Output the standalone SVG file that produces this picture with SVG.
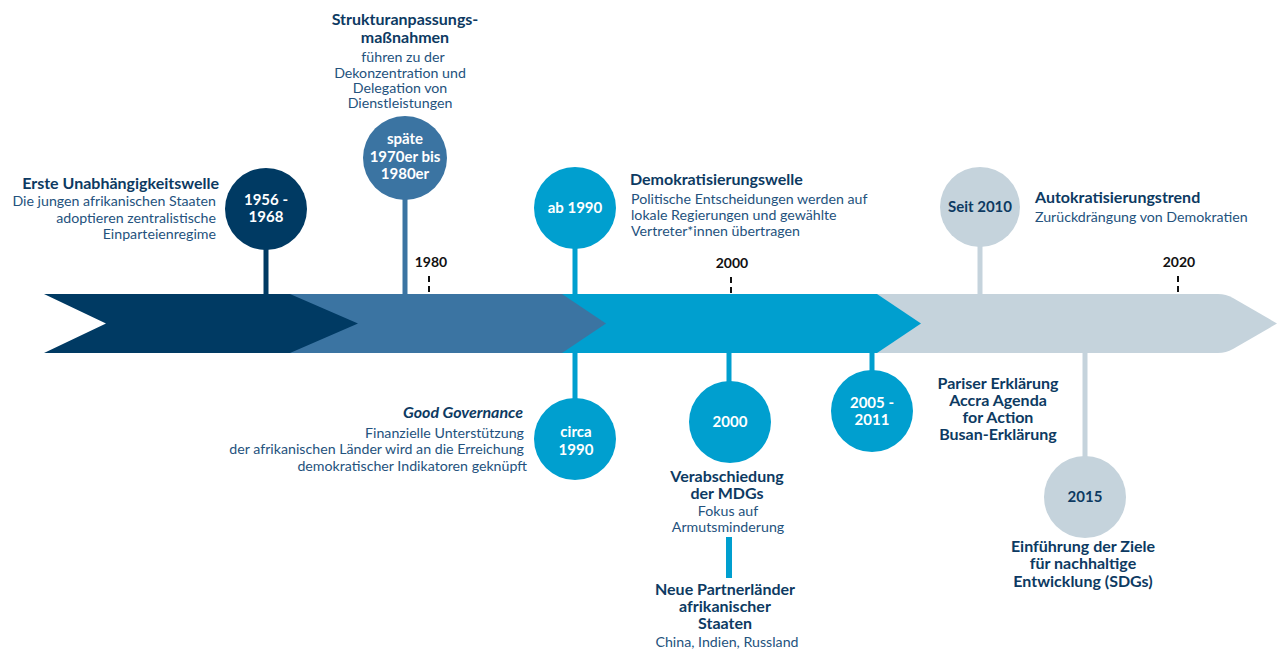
<svg xmlns="http://www.w3.org/2000/svg" width="1277" height="650" viewBox="0 0 1277 650">
  <style>
    text { font-family: "Lato", "Open Sans", sans-serif; }
    .h { font-weight: 700; font-size: 16px; fill: #0d3a62; }
    .b { font-size: 14.2px; fill: #24527d; }
    .c { font-weight: 700; font-size: 15px; fill: #ffffff; text-anchor: middle; }
    .cd { font-weight: 700; font-size: 15px; fill: #0d3a62; text-anchor: middle; }
    .y { font-weight: 700; font-size: 14px; fill: #111111; text-anchor: middle; }
    .mid { text-anchor: middle; }
    .end { text-anchor: end; }
    .tick { stroke: #111111; stroke-width: 2; stroke-dasharray: 6 4; }
    .navy { fill: #003a63; }
    .steel { fill: #3b74a2; }
    .cyan { fill: #009fcf; }
    .grey { fill: #c5d3dc; }
  </style>

  <!-- timeline band, drawn right to left so each arrow tip overlaps the next -->
  <g id="band">
    <path class="grey" d="M876,294 L1218,294 Q1226,294 1233,298 L1277,323.5 L1233,349 Q1226,353 1218,353 L876,353 Z"/>
    <path class="cyan" d="M561,294 L877,294 L921,323.5 L877,353 L561,353 Z"/>
    <path class="steel" d="M289,294 L562,294 L606,323.5 L562,353 L289,353 Z"/>
    <path class="navy" d="M44,294 L290,294 L358,323.5 L290,353 L44,353 L106,323.5 Z"/>
  </g>

  <!-- year ticks -->
  <g id="ticks">
    <line class="tick" x1="429" y1="276" x2="429" y2="294"/>
    <text class="y" x="431" y="267">1980</text>
    <line class="tick" x1="731" y1="277" x2="731" y2="294"/>
    <text class="y" x="732" y="268">2000</text>
    <line class="tick" x1="1178" y1="276" x2="1178" y2="294"/>
    <text class="y" x="1179" y="267">2020</text>
  </g>

  <!-- connectors between circles and band -->
  <g id="connectors" stroke-width="5">
    <line x1="266" y1="240" x2="266" y2="296" stroke="#003a63"/>
    <line x1="405" y1="190" x2="405" y2="296" stroke="#3b74a2"/>
    <line x1="575" y1="240" x2="575" y2="296" stroke="#009fcf"/>
    <line x1="575" y1="351" x2="575" y2="405" stroke="#009fcf"/>
    <line x1="729" y1="351" x2="729" y2="390" stroke="#009fcf"/>
    <line x1="872" y1="351" x2="872" y2="378" stroke="#009fcf"/>
    <line x1="980" y1="240" x2="980" y2="296" stroke="#c5d3dc"/>
    <line x1="1085" y1="351" x2="1085" y2="462" stroke="#c5d3dc"/>
    <line x1="729" y1="537" x2="729" y2="578" stroke="#009fcf" stroke-width="6"/>
  </g>

  <g id="n1956">
    <circle class="navy" cx="266" cy="209" r="41"/>
    <text class="c" x="266" y="205">1956 -</text>
    <text class="c" x="266" y="222">1968</text>
    <text class="h end" x="219" y="189">Erste Unabhängigkeitswelle</text>
    <text class="b end" x="216" y="206">Die jungen afrikanischen Staaten</text>
    <text class="b end" x="216" y="223">adoptieren zentralistische</text>
    <text class="b end" x="216" y="239">Einparteienregime</text>
  </g>

  <g id="n1970">
    <circle class="steel" cx="405" cy="158" r="42"/>
    <text class="c" x="405" y="144">späte</text>
    <text class="c" x="405" y="162">1970er bis</text>
    <text class="c" x="405" y="179">1980er</text>
    <text class="h mid" x="405" y="25">Strukturanpassungs-</text>
    <text class="h mid" x="405" y="43">maßnahmen</text>
    <text class="b mid" x="403" y="62">führen zu der</text>
    <text class="b mid" x="400" y="78">Dekonzentration und</text>
    <text class="b mid" x="400" y="93">Delegation von</text>
    <text class="b mid" x="400" y="108">Dienstleistungen</text>
  </g>

  <g id="n1990">
    <circle class="cyan" cx="575" cy="208" r="41"/>
    <text class="c" x="575" y="213">ab 1990</text>
    <text class="h" x="630" y="185">Demokratisierungswelle</text>
    <text class="b" x="631" y="204">Politische Entscheidungen werden auf</text>
    <text class="b" x="631" y="220">lokale Regierungen und gewählte</text>
    <text class="b" x="631" y="236">Vertreter*innen übertragen</text>
  </g>

  <g id="ncirca1990">
    <circle class="cyan" cx="575" cy="439" r="41"/>
    <text class="c" x="576" y="437">circa</text>
    <text class="c" x="576" y="455">1990</text>
    <text class="h end" x="523" y="418" font-style="italic">Good Governance</text>
    <text class="b end" x="524" y="438">Finanzielle Unterstützung</text>
    <text class="b end" x="524" y="454">der afrikanischen Länder wird an die Erreichung</text>
    <text class="b end" x="527" y="471">demokratischer Indikatoren geknüpft</text>
  </g>

  <g id="n2000">
    <circle class="cyan" cx="730" cy="422" r="41"/>
    <text class="c" x="730" y="427">2000</text>
    <text class="h mid" x="727" y="482">Verabschiedung</text>
    <text class="h mid" x="727" y="499">der MDGs</text>
    <text class="b mid" x="728" y="516">Fokus auf</text>
    <text class="b mid" x="728" y="532">Armutsminderung</text>
    <text class="h mid" x="725" y="595">Neue Partnerländer</text>
    <text class="h mid" x="725" y="612">afrikanischer</text>
    <text class="h mid" x="725" y="629">Staaten</text>
    <text class="b mid" x="727" y="647">China, Indien, Russland</text>
  </g>

  <g id="n2005">
    <circle class="cyan" cx="872" cy="411" r="41"/>
    <text class="c" x="872" y="408">2005 -</text>
    <text class="c" x="872" y="425">2011</text>
    <text class="h mid" x="998" y="389">Pariser Erklärung</text>
    <text class="h mid" x="998" y="406">Accra Agenda</text>
    <text class="h mid" x="998" y="423">for Action</text>
    <text class="h mid" x="998" y="440">Busan-Erklärung</text>
  </g>

  <g id="n2010">
    <circle class="grey" cx="980" cy="207" r="40"/>
    <text class="cd" x="980" y="212">Seit 2010</text>
    <text class="h" x="1035" y="203">Autokratisierungstrend</text>
    <text class="b" x="1035" y="222">Zurückdrängung von Demokratien</text>
  </g>

  <g id="n2015">
    <circle class="grey" cx="1085" cy="497" r="41"/>
    <text class="cd" x="1085" y="502">2015</text>
    <text class="h mid" x="1083" y="552">Einführung der Ziele</text>
    <text class="h mid" x="1083" y="569">für nachhaltige</text>
    <text class="h mid" x="1083" y="587">Entwicklung (SDGs)</text>
  </g>
</svg>
